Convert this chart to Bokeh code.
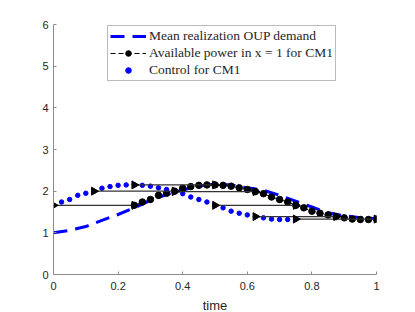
import math
from bokeh.plotting import figure
from bokeh.models import Legend, LegendItem, FixedTicker
from bokeh.embed import file_html
from bokeh.resources import INLINE

# ---- data ----
t_demand = [0, 0.05, 0.1, 0.15, 0.2, 0.25, 0.3, 0.35, 0.4, 0.45, 0.5, 0.55,
            0.6, 0.65, 0.7, 0.75, 0.8, 0.85, 0.9, 0.95, 1.0]
demand = [1.0, 1.06, 1.15, 1.3, 1.44, 1.6, 1.78, 1.92, 2.03, 2.12, 2.17, 2.15,
          2.08, 2.02, 1.9, 1.76, 1.62, 1.48, 1.41, 1.36, 1.34]

t_control = [0, 0.025, 0.05, 0.075, 0.1, 0.125, 0.15, 0.175, 0.2, 0.225, 0.25,
             0.275, 0.3, 0.325, 0.35, 0.375, 0.4, 0.425, 0.45, 0.475, 0.5,
             0.525, 0.55, 0.575, 0.6, 0.625, 0.65, 0.675, 0.7, 0.725, 0.75]
control = [1.66, 1.74, 1.8, 1.9, 1.95, 2.0, 2.07, 2.11, 2.14, 2.15, 2.15,
           2.14, 2.12, 2.08, 2.04, 1.99, 1.94, 1.86, 1.8, 1.74, 1.66,
           1.6, 1.52, 1.47, 1.43, 1.39, 1.36, 1.33, 1.32, 1.32, 1.33]

t_power = [0.25, 0.275, 0.3, 0.325, 0.35, 0.375, 0.4, 0.425, 0.45, 0.475, 0.5,
           0.525, 0.55, 0.575, 0.6, 0.625, 0.65, 0.675, 0.7, 0.725, 0.75,
           0.775, 0.8, 0.825, 0.85, 0.875, 0.9, 0.925, 0.95, 0.975, 1.0]
power = [1.66, 1.74, 1.8, 1.9, 1.95, 2.0, 2.07, 2.11, 2.14, 2.15, 2.15,
         2.14, 2.12, 2.08, 2.04, 1.99, 1.94, 1.86, 1.8, 1.74, 1.66,
         1.6, 1.52, 1.47, 1.43, 1.39, 1.36, 1.33, 1.32, 1.32, 1.33]

seg_start = [0, 0.125, 0.25, 0.375, 0.5, 0.625, 0.75]
seg_end = [0.25, 0.375, 0.5, 0.625, 0.75, 0.875, 1.0]
seg_level = [1.66, 2.0, 2.15, 1.99, 1.66, 1.39, 1.33]

x_ticks = [0, 0.2, 0.4, 0.6, 0.8, 1]
x_tick_labels = ["0", "0.2", "0.4", "0.6", "0.8", "1"]
y_ticks = [0, 1, 2, 3, 4, 5, 6]
y_tick_labels = ["0", "1", "2", "3", "4", "5", "6"]

# ---- figure ----
p = figure(frame_width=323, frame_height=250, x_range=(0, 1), y_range=(0, 6),
           output_backend="svg", toolbar_location=None,
           min_border_left=53, min_border_top=24, min_border_right=31,
           min_border_bottom=36)
p.outline_line_color = None
p.grid.visible = False
p.background_fill_color = "white"
p.border_fill_color = "white"

axis_col = "#8c8c8c"
for ax in (p.xaxis, p.yaxis):
    ax.axis_line_color = axis_col
    ax.major_tick_line_color = axis_col
    ax.minor_tick_line_color = None
    ax.major_tick_in = 3
    ax.major_tick_out = 0
    ax.major_label_text_font = "Liberation Sans"
    ax.major_label_text_font_size = "11px"
    ax.major_label_text_color = "#262626"

p.xaxis.ticker = FixedTicker(ticks=x_ticks)
p.xaxis.major_label_overrides = {t: l for t, l in zip(x_ticks, x_tick_labels)}
p.yaxis.ticker = FixedTicker(ticks=y_ticks)
p.yaxis.major_label_overrides = {t: l for t, l in zip(y_ticks, y_tick_labels)}
p.xaxis.major_label_standoff = 7
p.yaxis.major_label_standoff = 5
p.xaxis.axis_label = "time"
p.xaxis.axis_label_text_font = "Liberation Sans"
p.xaxis.axis_label_text_font_style = "normal"
p.xaxis.axis_label_text_font_size = "13px"
p.xaxis.axis_label_text_color = "#262626"
p.xaxis.axis_label_standoff = 5

# demand
r_dem = p.line(t_demand, demand, line_color="#0000ff", line_width=3,
               line_dash="14 8")

# available power
r_pow_line = p.line(t_power, power, line_color="black", line_width=1,
                    line_dash="5 3")
r_pow_dots = p.scatter(t_power, power, size=6.5, marker="circle",
                       fill_color="black", line_color="black")

# control
r_ctl = p.scatter(t_control, control, size=4.5, marker="circle",
                  fill_color="#0000ff", line_color="#0000ff")

# characteristic segments
p.segment(x0=seg_start, y0=seg_level, x1=seg_end, y1=seg_level,
          line_color="#333333", line_width=1.2)
p.scatter(seg_start + seg_end, seg_level + seg_level, marker="triangle",
          size=8, angle=-math.pi / 2, fill_color="black", line_color="black")

legend = Legend(items=[
    LegendItem(label="Mean realization OUP demand", renderers=[r_dem]),
    LegendItem(label="Available power in x = 1 for CM1",
               renderers=[r_pow_line, r_pow_dots]),
    LegendItem(label="Control for CM1", renderers=[r_ctl]),
], location=(54, 193))
legend.label_text_font = "Liberation Serif"
legend.label_text_font_size = "13.5px"
legend.label_text_color = "#262626"
legend.glyph_width = 36
legend.glyph_height = 14
legend.label_height = 14
legend.label_standoff = 3
legend.spacing = 1
legend.padding = 2
legend.margin = 0
legend.border_line_color = "#777777"
legend.border_line_width = 1
legend.background_fill_alpha = 1
p.add_layout(legend, "center")

open("out.html", "w").write(file_html(p, INLINE))
